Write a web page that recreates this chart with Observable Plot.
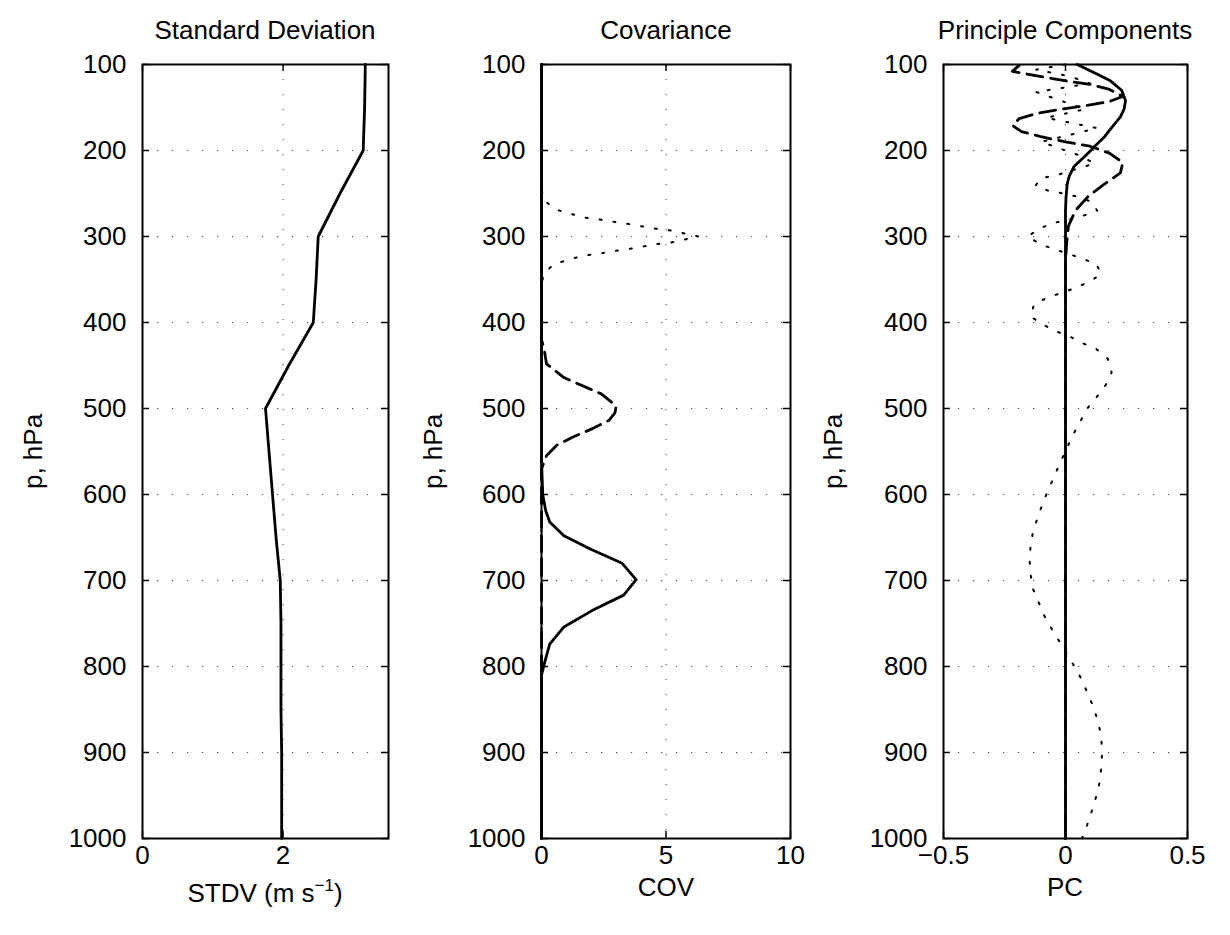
<!DOCTYPE html>
<html>
<head>
<meta charset="utf-8">
<script src="https://cdn.jsdelivr.net/npm/d3@7"></script>
<script src="https://cdn.jsdelivr.net/npm/@observablehq/plot@0.6"></script>
<style>
  body { margin: 0; background: white; }
  #wrap { position: relative; width: 1230px; height: 935px; overflow: hidden; background: white;
          font-family: "Liberation Sans", Arial, Helvetica, sans-serif; color: black; }
  #wrap svg { position: absolute; top: 0; }
  .lbl { position: absolute; font-size: 26px; line-height: 26px; white-space: nowrap; transform: translateX(-50%); }
  .lbl sup { font-size: 17px; line-height: 0; vertical-align: 11px; }
</style>
</head>
<body>
<div id="wrap"></div>
<script>
// ---------- data ----------
const pTicks = [100, 200, 300, 400, 500, 600, 700, 800, 900, 1000];

// Panel 1: standard deviation
const stdvP = [100, 150, 200, 250, 300, 350, 400, 450, 500, 550, 600, 650, 700, 750, 800, 850, 900, 950, 1000];
const stdv  = [3.17, 3.16, 3.14, 2.81, 2.50, 2.47, 2.43, 2.08, 1.75, 1.80, 1.85, 1.90, 1.96, 1.97, 1.97, 1.97, 1.98, 1.98, 1.98];
const stdvTicks = [0, 2];

// Panel 2: covariance
const covSolidP = [100, 560, 600, 619, 632, 648, 664, 680, 699, 717, 735, 754, 774, 795, 810, 1000];
const covSolid  = [0, 0, 0.05, 0.17, 0.33, 0.9, 2.0, 3.24, 3.8, 3.3, 2.03, 0.9, 0.33, 0.13, 0, 0];
const covDashP  = [100, 420, 430, 448, 464, 473, 483, 497, 505, 514, 524, 534, 543, 555, 570, 1000];
const covDash   = [0, 0, 0.1, 0.2, 0.9, 1.6, 2.4, 3.0, 2.95, 2.7, 2.0, 1.2, 0.6, 0.2, 0, 0];
const covDotP   = [100, 245, 257, 268, 273, 278, 280, 283, 285, 288, 291, 293, 300, 307, 309, 312, 315, 317, 320, 322, 327, 332, 343, 355, 1000];
const covDot    = [0, 0, 0.1, 0.5, 1.1, 1.7, 2.3, 2.9, 3.4, 4.0, 4.6, 5.2, 6.3, 5.2, 4.6, 4.0, 3.4, 2.9, 2.3, 1.7, 1.1, 0.5, 0.1, 0, 0];
const covTicks = [0, 5, 10];

// Panel 3: principal components
const pc1P = [100, 110, 119, 130, 142, 152, 161, 173, 185, 195, 204, 212, 219, 230, 239, 255, 270, 300, 1000];
const pc1  = [0.048, 0.12, 0.184, 0.23, 0.246, 0.24, 0.225, 0.19, 0.157, 0.12, 0.089, 0.06, 0.034, 0.015, 0.007, 0.002, 0, 0, 0];
const pc2P = [101, 108, 112, 116, 120, 123, 129, 137, 143, 148, 152, 157, 163, 171, 178, 184, 190, 195, 203, 214, 226, 238, 253, 270, 288, 310, 330, 1000];
const pc2  = [-0.19, -0.218, -0.14, -0.06, 0.02, 0.10, 0.18, 0.235, 0.18, 0.08, -0.02, -0.12, -0.19, -0.217, -0.18, -0.10, 0, 0.10, 0.18, 0.235, 0.225, 0.165, 0.094, 0.04, 0.012, 0.004, 0, 0];
const pc3P = [100, 106, 114, 122, 132, 142, 152, 162, 174, 190, 205, 215, 229, 232, 241, 247, 250, 254, 260, 270, 276, 281, 284, 290, 300, 309, 315, 320, 326, 332, 344, 353, 360, 366, 371, 379, 393, 402, 410, 416, 424, 431, 442, 458, 473, 487, 500, 516, 531, 547, 562, 578, 593, 610, 626, 643, 659, 676, 693, 710, 726, 742, 757, 772, 787, 802, 816, 833, 848, 865, 881, 899, 916, 933, 950, 967, 984, 1000];
const pc3  = [0.0, -0.12, 0.02, 0.10, -0.12, -0.02, 0.08, -0.08, 0.13, -0.10, 0.05, 0.12, -0.04, -0.10, -0.123, -0.069, -0.007, 0.052, 0.109, 0.130, 0.071, 0.007, -0.045, -0.102, -0.155, -0.102, -0.045, 0.011, 0.071, 0.127, 0.145, 0.095, 0.038, -0.020, -0.075, -0.129, -0.143, -0.095, -0.041, 0.016, 0.070, 0.127, 0.173, 0.189, 0.164, 0.127, 0.089, 0.059, 0.030, 0.004, -0.020, -0.045, -0.068, -0.093, -0.113, -0.133, -0.143, -0.147, -0.143, -0.133, -0.109, -0.085, -0.055, -0.023, 0.009, 0.041, 0.068, 0.093, 0.116, 0.134, 0.146, 0.150, 0.147, 0.141, 0.127, 0.109, 0.089, 0.068];
const pcTicks = [-0.5, 0, 0.5];

// ---------- drawing ----------
const toRows = (P, V) => P.map((p, i) => ({p, v: V[i]}));
const fmt = d => (d < 0 ? "\u2212" + String(-d) : String(d));
const STY = {
  solid: {stroke: "black", strokeWidth: 2.8},
  dash:  {stroke: "black", strokeWidth: 2.8, strokeDasharray: "16,8"},
  dot:   {stroke: "black", strokeWidth: 2, strokeDasharray: "2,12"}
};

function panel({left, width, marginLeft, marginRight, xDomain, xTicks, series}) {
  const H = 935, mt = 64, mb = 97;
  const fw = width - marginLeft - marginRight, fh = H - mt - mb;
  const inner = xTicks.filter(t => t > xDomain[0] && t < xDomain[1]);
  const grid = {stroke: "black", strokeOpacity: 0.75, strokeWidth: 1, strokeDasharray: "1.2,13.8"};
  const svg = Plot.plot({
    width, height: H, marginTop: mt, marginBottom: mb, marginLeft, marginRight,
    x: {domain: xDomain},
    y: {domain: [100, 1000], reverse: true},
    style: {background: "none", fontFamily: "Liberation Sans, Arial, Helvetica, sans-serif", fontSize: "26px", color: "black", overflow: "visible"},
    marks: [
      Plot.gridY(pTicks.filter(p => p > 100 && p < 1000), grid),
      Plot.gridX(inner, grid),
      ...series.map(s => Plot.line(toRows(s.p, s.v), {x: "v", y: "p", ...STY[s.style]})),
      Plot.tickY(pTicks, {y: d => d, insetRight: fw - 7, stroke: "black", strokeWidth: 1.5}),
      Plot.tickY(pTicks, {y: d => d, insetLeft: fw - 7, stroke: "black", strokeWidth: 1.5}),
      Plot.tickX(xTicks, {x: d => d, insetTop: fh - 7, stroke: "black", strokeWidth: 1.5}),
      Plot.tickX(xTicks, {x: d => d, insetBottom: fh - 7, stroke: "black", strokeWidth: 1.5}),
      Plot.frame({stroke: "black", strokeWidth: 2}),
      Plot.axisY(pTicks, {tickSize: 0, tickPadding: 16, fontSize: 26, label: null, tickFormat: fmt}),
      Plot.axisX(xTicks, {tickSize: 0, tickPadding: 7, fontSize: 26, label: null, tickFormat: fmt}),
      Plot.text(["p, hPa"], {frameAnchor: "left", dx: -(marginLeft - 33), rotate: -90, textAnchor: "middle", lineAnchor: "middle", fontSize: 26})
    ]
  });
  svg.style.left = left + "px";
  return svg;
}

const wrap = document.getElementById("wrap");
wrap.appendChild(panel({
  left: 0, width: 420, marginLeft: 142, marginRight: 32,
  xDomain: [0, 3.5], xTicks: stdvTicks,
  series: [{p: stdvP, v: stdv, style: "solid"}]
}));
wrap.appendChild(panel({
  left: 400, width: 410, marginLeft: 141, marginRight: 20,
  xDomain: [0, 10], xTicks: covTicks,
  series: [
    {p: covDotP, v: covDot, style: "dot"},
    {p: covDashP, v: covDash, style: "dash"},
    {p: covSolidP, v: covSolid, style: "solid"}
  ]
}));
wrap.appendChild(panel({
  left: 800, width: 430, marginLeft: 143, marginRight: 43,
  xDomain: [-0.5, 0.5], xTicks: pcTicks,
  series: [
    {p: pc3P, v: pc3, style: "dot"},
    {p: pc2P, v: pc2, style: "dash"},
    {p: pc1P, v: pc1, style: "solid"}
  ]
}));

const labels = [
  {x: 265, y: 17, html: "Standard Deviation"},
  {x: 666, y: 17, html: "Covariance"},
  {x: 1065, y: 17, html: "Principle Components"},
  {x: 265, y: 880, html: "STDV (m s<sup>\u22121</sup>)"},
  {x: 666, y: 874, html: "COV"},
  {x: 1065, y: 874, html: "PC"}
];
for (const l of labels) {
  const d = document.createElement("div");
  d.className = "lbl";
  d.style.left = l.x + "px";
  d.style.top = l.y + "px";
  d.innerHTML = l.html;
  wrap.appendChild(d);
}
</script>
</body>
</html>
